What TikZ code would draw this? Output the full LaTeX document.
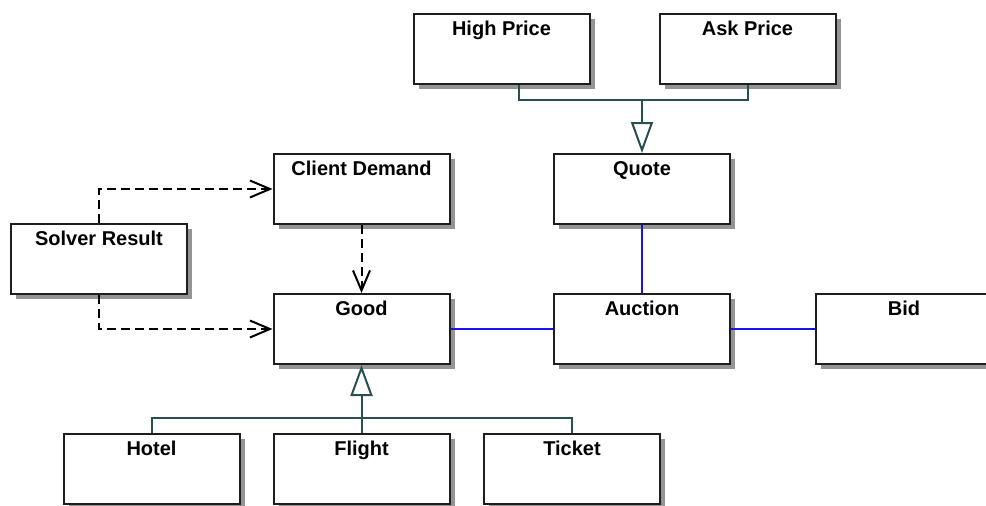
\documentclass[tikz,border=0pt]{standalone}
\usepackage{fontspec}
\setmainfont{Liberation Sans}
\usetikzlibrary{arrows.meta,shadows,calc}
\definecolor{gen}{RGB}{40,80,80}
\definecolor{assoc}{RGB}{20,20,235}
\definecolor{boxline}{RGB}{30,30,30}
\tikzset{
  cls/.style={draw=boxline, line width=2pt, fill=white, rectangle,
    minimum width=176pt, minimum height=70pt, inner sep=0pt,
    general shadow={fill=black!42, shadow xshift=5pt, shadow yshift=-5pt},
    label={[anchor=base, yshift=-22pt, font=\bfseries\fontsize{20}{24}\selectfont]north:#1}},
  genline/.style={draw=gen, line width=2pt},
  inherit/.style={genline, -{Triangle[open, length=31pt, width=22pt, line width=2pt]}},
  depend/.style={draw=black, line width=2pt, dash pattern=on 9pt off 5pt,
    -{Straight Barb[length=20pt, width=17pt, line width=2pt]}},
  assocline/.style={draw=assoc, line width=2pt}
}
\begin{document}
\begin{tikzpicture}[x=1pt, y=-1pt]
  \fill[white] (0,0) rectangle (986,506);
  \useasboundingbox (0,0) rectangle (986,506);

  % classes
  \node[cls=High Price]    (hp)      at (501.5,49)  {};
  \node[cls=Ask Price]     (ap)      at (747.5,49)  {};
  \node[cls=Quote]         (quote)   at (642,189)   {};
  \node[cls=Client Demand] (cd)      at (361.5,189) {};
  \node[cls=Solver Result] (sr)      at (99,259)    {};
  \node[cls=Good]          (good)    at (361.5,329) {};
  \node[cls=Auction]       (auction) at (642,329)   {};
  \node[cls=Bid]           (bid)     at (904,329)   {};
  \node[cls=Hotel]         (hotel)   at (151.5,469) {};
  \node[cls=Flight]        (flight)  at (361.5,469) {};
  \node[cls=Ticket]        (ticket)  at (572,469)   {};

  % generalisation: prices -> quote
  \coordinate (qj) at ($(quote.north)+(0,-53)$);
  \draw[genline] ([xshift=17pt]hp.south) |- (qj);
  \draw[genline] (ap.south) |- (qj);
  \draw[inherit] (qj) -- (quote.north);

  % generalisation: hotel, flight, ticket -> good
  \coordinate (gj) at ($(good.south)+(0,53)$);
  \draw[genline] (hotel.north) |- (gj);
  \draw[genline] (ticket.north) |- (gj);
  \draw[inherit] (flight.north) -- (good.south);

  % dependencies
  \draw[depend] (sr.north) |- (cd.west);
  \draw[depend] (sr.south) |- (good.west);
  \draw[depend] (cd.south) -- (good.north);

  % associations
  \draw[assocline] (good.east) -- (auction.west);
  \draw[assocline] (auction.east) -- (bid.west);
  \draw[assocline] (quote.south) -- (auction.north);
\end{tikzpicture}
\end{document}
